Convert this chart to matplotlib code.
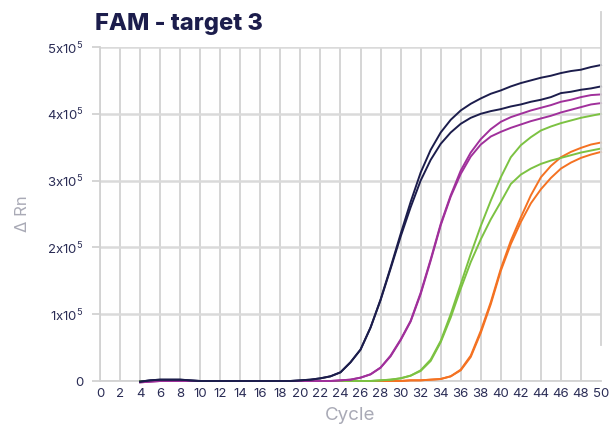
import matplotlib
matplotlib.use("Agg")
import matplotlib.pyplot as plt
from matplotlib.lines import Line2D

plt.rcParams["font.family"] = ["Inter", "DejaVu Sans"]
plt.rcParams["mathtext.fontset"] = "custom"
plt.rcParams["mathtext.rm"] = "Inter"

# cycles 4..50, delta Rn in units of 1e5
cycles = list(range(4, 51))

navy_a = [-0.01, 0.01, 0.02, 0.02, 0.02, 0.01, 0.0, 0.0, 0.0, 0.0, 0.0, 0.0, 0.0, 0.0, 0.0, 0.0,
          0.01, 0.02, 0.04, 0.07, 0.13, 0.28, 0.47, 0.80, 1.22, 1.70, 2.20, 2.68, 3.12, 3.46,
          3.72, 3.91, 4.05, 4.15, 4.23, 4.30, 4.35, 4.41, 4.46, 4.50, 4.54, 4.57, 4.61, 4.64,
          4.66, 4.70, 4.73]
navy_b = [-0.01, 0.01, 0.02, 0.02, 0.02, 0.01, 0.0, 0.0, 0.0, 0.0, 0.0, 0.0, 0.0, 0.0, 0.0, 0.0,
          0.01, 0.02, 0.04, 0.07, 0.13, 0.28, 0.47, 0.80, 1.21, 1.68, 2.16, 2.60, 3.00, 3.31,
          3.55, 3.72, 3.85, 3.94, 4.00, 4.04, 4.07, 4.11, 4.14, 4.18, 4.21, 4.25, 4.31, 4.33,
          4.36, 4.38, 4.41]
purple_a = [-0.02, -0.01, 0.0, 0.0, 0.0, 0.0, 0.0, 0.0, 0.0, 0.0, 0.0, 0.0, 0.0, 0.0, 0.0, 0.0,
            0.0, 0.0, 0.0, 0.0, 0.01, 0.02, 0.05, 0.10, 0.20, 0.38, 0.62, 0.90, 1.32, 1.82,
            2.35, 2.78, 3.15, 3.42, 3.62, 3.77, 3.88, 3.95, 4.00, 4.05, 4.09, 4.13, 4.18, 4.21,
            4.25, 4.28, 4.29]
purple_b = [-0.02, -0.01, 0.0, 0.0, 0.0, 0.0, 0.0, 0.0, 0.0, 0.0, 0.0, 0.0, 0.0, 0.0, 0.0, 0.0,
            0.0, 0.0, 0.0, 0.0, 0.01, 0.02, 0.05, 0.10, 0.20, 0.37, 0.61, 0.89, 1.30, 1.80,
            2.33, 2.76, 3.10, 3.36, 3.54, 3.66, 3.73, 3.79, 3.84, 3.89, 3.93, 3.97, 4.02, 4.06,
            4.10, 4.14, 4.16]
green_a = [0.0, 0.0, 0.0, 0.0, 0.0, 0.0, 0.0, 0.0, 0.0, 0.0, 0.0, 0.0, 0.0, 0.0, 0.0, 0.0,
           0.0, 0.0, 0.0, 0.0, 0.0, 0.0, 0.0, 0.0, 0.01, 0.02, 0.04, 0.08, 0.16, 0.32,
           0.60, 1.00, 1.45, 1.90, 2.32, 2.70, 3.05, 3.35, 3.53, 3.65, 3.75, 3.81, 3.86, 3.90,
           3.94, 3.97, 4.00]
green_b = [0.0, 0.0, 0.0, 0.0, 0.0, 0.0, 0.0, 0.0, 0.0, 0.0, 0.0, 0.0, 0.0, 0.0, 0.0, 0.0,
           0.0, 0.0, 0.0, 0.0, 0.0, 0.0, 0.0, 0.0, 0.01, 0.02, 0.04, 0.08, 0.15, 0.30,
           0.58, 0.95, 1.38, 1.78, 2.12, 2.42, 2.68, 2.95, 3.09, 3.18, 3.25, 3.30, 3.34, 3.38,
           3.42, 3.45, 3.48]
orange_a = [0.0, 0.0, 0.0, 0.0, 0.0, 0.0, 0.0, 0.0, 0.0, 0.0, 0.0, 0.0, 0.0, 0.0, 0.0, 0.0,
            0.0, 0.0, 0.0, 0.0, 0.0, 0.0, 0.0, 0.0, 0.0, 0.0, 0.0, 0.01, 0.01, 0.02,
            0.03, 0.07, 0.17, 0.38, 0.75, 1.18, 1.68, 2.10, 2.45, 2.78, 3.05, 3.22, 3.35, 3.43,
            3.49, 3.54, 3.57]
orange_b = [0.0, 0.0, 0.0, 0.0, 0.0, 0.0, 0.0, 0.0, 0.0, 0.0, 0.0, 0.0, 0.0, 0.0, 0.0, 0.0,
            0.0, 0.0, 0.0, 0.0, 0.0, 0.0, 0.0, 0.0, 0.0, 0.0, 0.0, 0.01, 0.01, 0.02,
            0.03, 0.07, 0.16, 0.36, 0.72, 1.15, 1.65, 2.05, 2.38, 2.66, 2.87, 3.04, 3.18, 3.27,
            3.34, 3.39, 3.43]

x_ticks = list(range(0, 51, 2))
y_ticks = [0, 1, 2, 3, 4, 5]
y_labels = ["0", r"1x10$^{5}$", r"2x10$^{5}$", r"3x10$^{5}$", r"4x10$^{5}$", r"5x10$^{5}$"]

NAVY = "#1c1d4c"
PURPLE = "#a0309b"
GREEN = "#7cc242"
ORANGE = "#f47222"
GRID = "#d2d2d2"
TEXT = "#2a2c55"
LABEL = "#a9aab6"

fig = plt.figure(figsize=(6.09, 4.30), dpi=100)
ax = fig.add_axes([100 / 609, 1 - 381 / 430, 501 / 609, 334 / 430])

series = [
    (orange_b, ORANGE), (orange_a, ORANGE),
    (green_b, GREEN), (green_a, GREEN),
    (purple_b, PURPLE), (purple_a, PURPLE),
    (navy_b, NAVY), (navy_a, NAVY),
]
for vals, col in series:
    ax.plot(cycles, vals, color=col, lw=1.4, clip_on=False, zorder=3)

ax.set_xlim(0, 50)
ax.set_ylim(0, 5)
ax.set_xticks(x_ticks)
ax.set_yticks(y_ticks)
ax.set_yticklabels(y_labels)

for x in x_ticks[:-1]:
    ax.axvline(x, color=GRID, lw=1.3, zorder=1)
for y in y_ticks:
    ax.axhline(y, color="#dadada", lw=1.8, zorder=1)

for s in ["top", "right"]:
    ax.spines[s].set_visible(False)
for s in ["left", "bottom"]:
    ax.spines[s].set_color(GRID)
    ax.spines[s].set_linewidth(1.3)

ax.tick_params(axis="y", length=6, color=GRID, width=1.3, pad=6, labelsize=9.5, labelcolor=TEXT)
ax.tick_params(axis="x", length=0, pad=5, labelsize=9.5, labelcolor=TEXT)

ax.set_xlabel("Cycle", color=LABEL, fontsize=13.5, labelpad=5)
ax.set_ylabel("Δ Rn", color=LABEL, fontsize=12, labelpad=12)

# stray right border line
fig.add_artist(Line2D([601 / 609, 601 / 609], [1 - 12 / 430, 1 - 345 / 430],
                      transform=fig.transFigure, color=GRID, lw=1.3))

fig.text(95 / 609, 1 - 30 / 430, "FAM - target 3", fontsize=17, fontweight="heavy",
         color=NAVY, ha="left", va="baseline")

fig.savefig("out.png", dpi=100)
